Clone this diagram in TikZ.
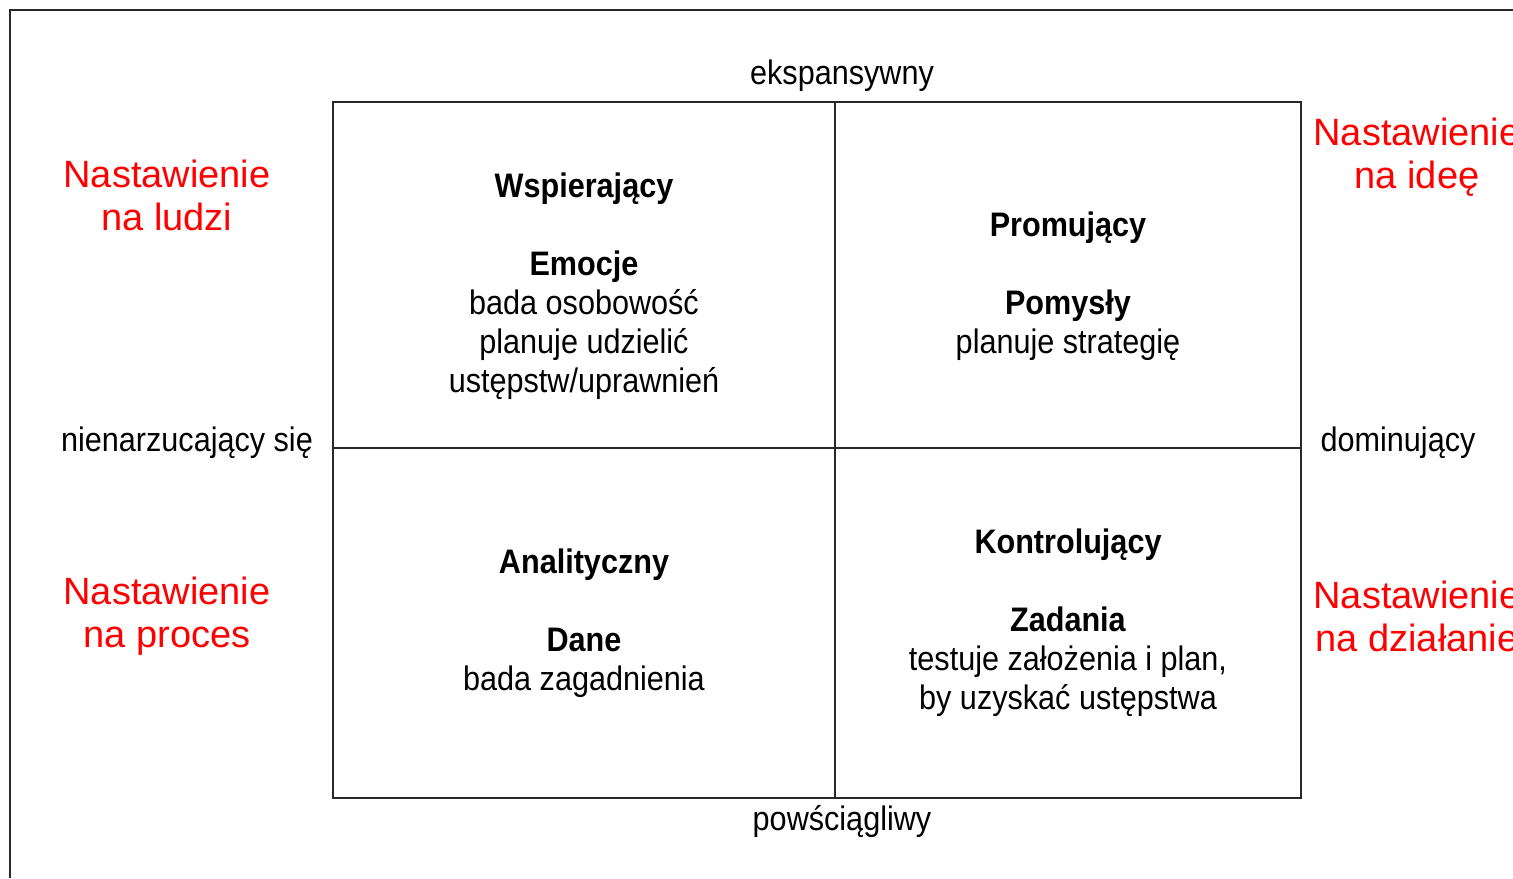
\documentclass[tikz,border=0pt]{standalone}
\usepackage{fontspec}
\setmainfont{Liberation Sans}
\newfontfamily\condfont[FakeStretch=0.9]{Liberation Sans}
\usepackage{tikz}
\usetikzlibrary{positioning}
\definecolor{tagred}{RGB}{255,0,0}
\definecolor{gridgray}{RGB}{40,40,40}
\newcommand{\toppad}{\rule{0pt}{24pt}}
\tikzstyle{cell}=[draw=gridgray,line width=1pt,inner sep=0pt,anchor=north west,align=center,font=\condfont\fontsize{17}{19.5}\selectfont]
\tikzstyle{axis}=[inner sep=0pt,font=\condfont\fontsize{17}{19.5}\selectfont]
\tikzstyle{focus}=[inner sep=0pt,align=center,text=tagred,font=\fontsize{19}{21.5}\selectfont]

\begin{document}
\begin{tikzpicture}[x=0.5pt,y=-0.5pt]
    \useasboundingbox (0,0) rectangle (1513,878);
    \draw [gridgray,line width=1pt] (1513,10) -- (10,10) -- (10,878);
    % quadrants
    \node [cell,minimum width=251pt,minimum height=173pt] (supp) at (332,101)
      {\toppad\textbf{Wspierający}\\[19.5pt]
       \textbf{Emocje}\\bada osobowość\\planuje udzielić\\ustępstw/uprawnień};
    \node [cell,minimum width=233pt,minimum height=173pt] (prom) at (834,101)
      {\toppad\textbf{Promujący}\\[19.5pt]
       \textbf{Pomysły}\\planuje strategię};
    \node [cell,minimum width=251pt,minimum height=175pt] (anal) at (332,447)
      {\textbf{Analityczny}\\[19.5pt]
       \textbf{Dane}\\bada zagadnienia};
    \node [cell,minimum width=233pt,minimum height=175pt] (ctrl) at (834,447)
      {\textbf{Kontrolujący}\\[19.5pt]
       \textbf{Zadania}\\testuje założenia i plan,\\by uzyskać ustępstwa};
    % axes
    \node [axis] (top) at (842,76) {ekspansywny};
    \node [axis] (bottom) at (842,822) {powściągliwy};
    \node [axis] (left) at (187,443) {nienarzucający się};
    \node [axis] (right) at (1398,443) {dominujący};
    % orientations
    \node [focus] (people) at (167,195) {Nastawienie\\na ludzi};
    \node [focus] (idea) at (1417,157) {Nastawienie\\na ideę};
    \node [focus] (process) at (167,616) {Nastawienie\\na proces};
    \node [focus] (action) at (1417,616) {Nastawienie\\na działanie};
\end{tikzpicture}
\end{document}
